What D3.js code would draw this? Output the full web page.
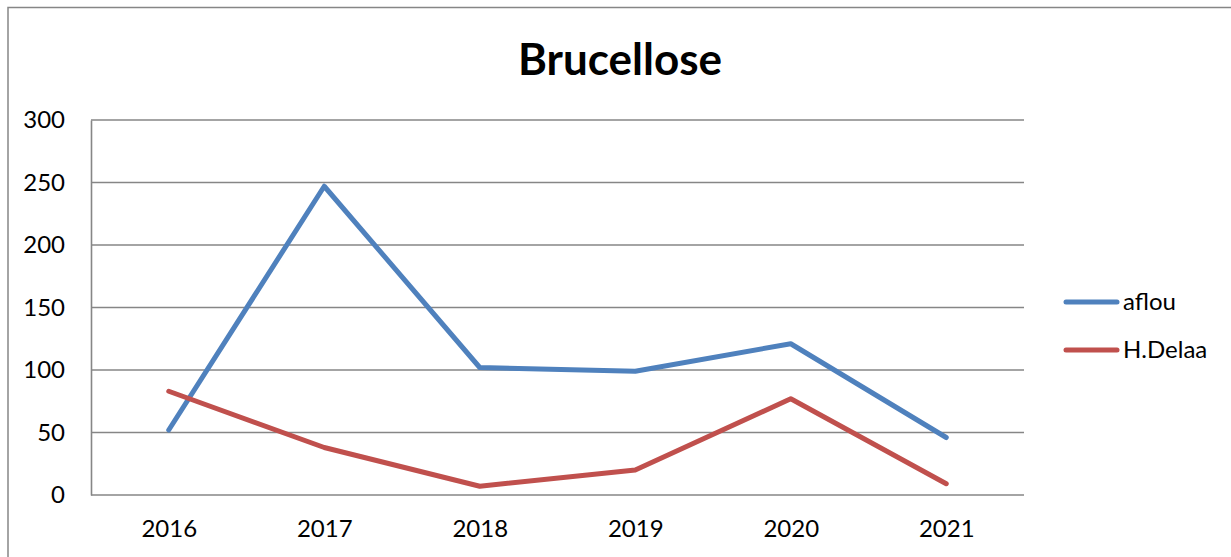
<!DOCTYPE html>
<html>
<head>
<meta charset="utf-8">
<script src="https://cdn.jsdelivr.net/npm/d3@7"></script>
<style>
  html, body { margin: 0; padding: 0; background: #fff; }
  svg { display: block; font-family: Lato, "Open Sans", sans-serif; }
</style>
</head>
<body>
<svg id="chart" width="1231" height="557"></svg>
<script>
// Brucellose cases per year, two localities
const years = ["2016", "2017", "2018", "2019", "2020", "2021"];
const aflou = [52, 247, 102, 99, 121, 46];
const hDelaa = [83, 38, 7, 20, 77, 9];
const yTicks = [0, 50, 100, 150, 200, 250, 300];
const seriesNames = ["aflou", "H.Delaa"];
const seriesColors = ["#4F81BD", "#C0504D"];

const svg = d3.select("#chart");

// outer chart frame
svg.append("rect")
  .attr("x", 8).attr("y", 7.5)
  .attr("width", 1240).attr("height", 570)
  .attr("fill", "none")
  .attr("stroke", "#868686")
  .attr("stroke-width", 1.5);

const plot = { left: 91, right: 1024, top: 120, bottom: 495 };

const x = d3.scalePoint().domain(years).range([plot.left, plot.right]).padding(0.5);
const y = d3.scaleLinear().domain([0, 300]).range([plot.bottom, plot.top]);

// horizontal gridlines
svg.append("g")
  .selectAll("line")
  .data(yTicks)
  .join("line")
  .attr("x1", plot.left).attr("x2", plot.right)
  .attr("y1", d => y(d)).attr("y2", d => y(d))
  .attr("stroke", "#868686")
  .attr("stroke-width", 1.6);

// y axis
const yAxis = d3.axisLeft(y).tickValues(yTicks).tickSize(0).tickPadding(26);
const gy = svg.append("g").attr("transform", `translate(${plot.left},0)`).call(yAxis);
gy.select(".domain").attr("stroke", "#868686").attr("stroke-width", 1.6);
gy.selectAll("text").attr("font-size", 24).attr("fill", "#000")
  .attr("font-family", "Lato, 'Open Sans', sans-serif");

// x axis
const xAxis = d3.axisBottom(x).tickSize(0).tickPadding(25);
const gx = svg.append("g").attr("transform", `translate(0,${plot.bottom})`).call(xAxis);
gx.select(".domain").remove();
gx.selectAll("text").attr("font-size", 24).attr("fill", "#000")
  .attr("font-family", "Lato, 'Open Sans', sans-serif");

// series lines
const line = d3.line().x((d, i) => x(years[i])).y(d => y(d));
[aflou, hDelaa].forEach((vals, k) => {
  svg.append("path")
    .datum(vals)
    .attr("d", line)
    .attr("fill", "none")
    .attr("stroke", seriesColors[k])
    .attr("stroke-width", 5)
    .attr("stroke-linejoin", "round")
    .attr("stroke-linecap", "round");
});

// title
svg.append("text")
  .attr("x", 620).attr("y", 75)
  .attr("text-anchor", "middle")
  .attr("font-size", 44)
  .attr("font-weight", "bold")
  .attr("fill", "#000")
  .text("Brucellose");

// legend
const legend = svg.append("g");
seriesNames.forEach((name, k) => {
  const ly = 302 + k * 48;
  legend.append("line")
    .attr("x1", 1066).attr("x2", 1117)
    .attr("y1", ly).attr("y2", ly)
    .attr("stroke", seriesColors[k])
    .attr("stroke-width", 5)
    .attr("stroke-linecap", "round");
  legend.append("text")
    .attr("x", 1123).attr("y", ly)
    .attr("dy", "0.35em")
    .attr("font-size", 24)
    .attr("fill", "#000")
    .text(name);
});
</script>
</body>
</html>
